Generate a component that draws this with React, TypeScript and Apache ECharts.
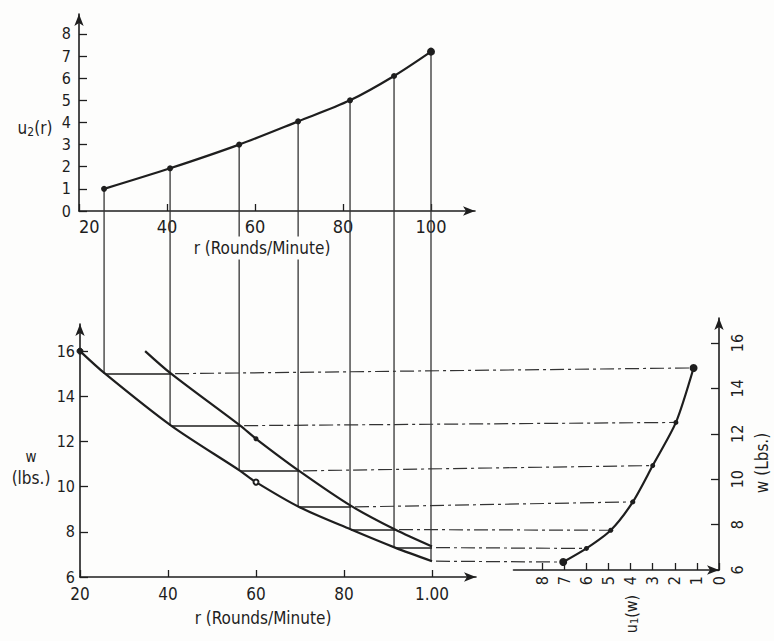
import React, { useEffect, useRef } from "react";
import * as echarts from "echarts";

// ---- data ----
// top chart: u2(r)
const rPts = [25.7, 40.7, 56.4, 69.8, 81.6, 91.6, 100];
const u2Vals = [1.0, 1.93, 3.0, 4.05, 5.0, 6.1, 7.2];
// lower curve value at each rPts (staircase levels)
const wSteps = [15.0, 12.7, 10.7, 9.1, 8.1, 7.3, 6.7];
// bottom-left curves
const lowerR = [20, 25.7, 40.7, 56.4, 60, 69.8, 81.6, 91.6, 100];
const lowerW = [16, 15.0, 12.7, 10.7, 10.2, 9.1, 8.1, 7.3, 6.7];
const upperR = [34.8, 40.7, 56.4, 60, 69.8, 81.6, 91.6, 100];
const upperW = [16, 15.0, 12.7, 12.12, 10.7, 9.15, 8.1, 7.35];
// right chart: u1(w)
const u1Vals = [1.15, 1.95, 3.0, 3.9, 4.9, 6.0, 7.05];
const u1W = [14.9, 12.5, 10.6, 9.0, 7.75, 6.95, 6.35];
// ticks / labels
const rTicks = [20, 40, 60, 80, 100];
const topRLabels = ["20", "40", "60", "80", "100"];
const botRLabels = ["20", "40", "60", "80", "1.00"];
const u2Ticks = [0, 1, 2, 3, 4, 5, 6, 7, 8];
const wTicks = [6, 8, 10, 12, 14, 16];
const u1Ticks = [0, 1, 2, 3, 4, 5, 6, 7, 8];

const FONT = '"Liberation Sans Narrow", "DejaVu Sans Condensed", "Liberation Sans", sans-serif';
const INK = "#1e1e1e";
const BG = "#fdfdfc";

function axisBase(extra: any) {
  return {
    type: "value",
    axisLine: {
      show: true,
      onZero: false,
      symbol: ["none", "arrow"],
      symbolSize: [7, 12],
      lineStyle: { color: INK, width: 1.6 },
    },
    splitLine: { show: false },
    ...extra,
  };
}

export default function App() {
  const ref = useRef<HTMLDivElement>(null);
  useEffect(() => {
    const chart = echarts.init(ref.current!, null, { renderer: "svg" });
    const option: any = {
      animation: false,
      backgroundColor: BG,
      grid: [
        { left: 79, top: 14, width: 396, height: 197, containLabel: false, outerBoundsMode: "none" },
        { left: 80, top: 324, width: 396, height: 253, containLabel: false, outerBoundsMode: "none" },
        { left: 513.5, top: 318, width: 205.5, height: 252, containLabel: false, outerBoundsMode: "none" },
      ],
      xAxis: [
        axisBase({
          gridIndex: 0, min: 20, max: 110,
          axisTick: { show: true, inside: true, length: 7, customValues: rTicks, lineStyle: { color: INK, width: 1.3 } },
          axisLabel: {
            customValues: rTicks, margin: 6, color: INK, fontFamily: FONT, fontSize: 18,
            alignMinLabel: "left",
            formatter: (v: number) => topRLabels[rTicks.indexOf(v)] ?? "",
          },
        }),
        axisBase({
          gridIndex: 1, min: 20, max: 110,
          axisTick: { show: true, inside: true, length: 7, customValues: rTicks, lineStyle: { color: INK, width: 1.3 } },
          axisLabel: {
            customValues: rTicks, margin: 8, color: INK, fontFamily: FONT, fontSize: 17,
            formatter: (v: number) => botRLabels[rTicks.indexOf(v)] ?? "",
          },
        }),
        axisBase({
          gridIndex: 2, min: 0, max: 9.3, inverse: true,
          axisTick: { show: true, inside: true, length: 7, customValues: u1Ticks, lineStyle: { color: INK, width: 1.3 } },
          axisLabel: {
            customValues: u1Ticks, margin: 6, rotate: 90, color: INK, fontFamily: FONT, fontSize: 16,
            formatter: (v: number) => String(v),
          },
        }),
      ],
      yAxis: [
        axisBase({
          gridIndex: 0, min: 0, max: 8.9,
          axisTick: { show: true, inside: true, length: 8, customValues: u2Ticks, lineStyle: { color: INK, width: 1.3 } },
          axisLabel: {
            customValues: u2Ticks, margin: 8, color: INK, fontFamily: FONT, fontSize: 16,
            formatter: (v: number) => String(v),
          },
        }),
        axisBase({
          gridIndex: 1, min: 6, max: 17.2,
          axisTick: { show: true, inside: true, length: 8, customValues: wTicks, lineStyle: { color: INK, width: 1.3 } },
          axisLabel: {
            customValues: wTicks, margin: 5, color: INK, fontFamily: FONT, fontSize: 16,
            formatter: (v: number) => String(v),
          },
        }),
        axisBase({
          gridIndex: 2, min: 6, max: 17.1, position: "right",
          axisTick: { show: true, inside: true, length: 8, customValues: wTicks, lineStyle: { color: INK, width: 1.3 } },
          axisLabel: {
            customValues: wTicks, margin: 10, rotate: 90, color: INK, fontFamily: FONT, fontSize: 16,
            formatter: (v: number) => String(v),
          },
        }),
      ],
      series: [
        {
          type: "line", xAxisIndex: 0, yAxisIndex: 0, smooth: 0.3,
          data: rPts.map((r, i) => ({
            value: [r, u2Vals[i]],
            symbolSize: i === rPts.length - 1 ? 8 : 6,
          })),
          symbol: "circle", symbolSize: 6,
          itemStyle: { color: INK },
          lineStyle: { color: INK, width: 2.2 },
          z: 5,
        },
        {
          type: "line", xAxisIndex: 1, yAxisIndex: 1, smooth: 0.3,
          data: lowerR.map((r, i) => {
            if (r === 20) return { value: [r, lowerW[i]], symbol: "circle", symbolSize: 6 };
            if (r === 60) return { value: [r, lowerW[i]], symbol: "emptyCircle", symbolSize: 5 };
            return { value: [r, lowerW[i]], symbol: "none" };
          }),
          showSymbol: true,
          itemStyle: { color: INK, borderColor: INK },
          lineStyle: { color: INK, width: 2.2 },
          z: 5,
        },
        {
          type: "line", xAxisIndex: 1, yAxisIndex: 1, smooth: 0.3,
          data: upperR.map((r, i) => {
            if (r === 60) return { value: [r, upperW[i]], symbol: "circle", symbolSize: 5 };
            return { value: [r, upperW[i]], symbol: "none" };
          }),
          showSymbol: true,
          itemStyle: { color: INK },
          lineStyle: { color: INK, width: 2.2 },
          z: 5,
        },
        {
          type: "lines", coordinateSystem: "cartesian2d", xAxisIndex: 1, yAxisIndex: 1,
          data: wSteps.slice(0, rPts.length - 1).map((w, i) => ({
            coords: [[rPts[i], w], [rPts[i + 1], w]],
          })),
          lineStyle: { color: INK, width: 1.5, opacity: 1 },
          z: 4,
        },
        {
          type: "line", xAxisIndex: 2, yAxisIndex: 2, smooth: 0.25,
          data: u1Vals.map((u, i) => ({
            value: [u, u1W[i]],
            symbolSize: i === 0 || i === u1Vals.length - 1 ? 8 : 5,
          })),
          symbol: "circle",
          itemStyle: { color: INK },
          lineStyle: { color: INK, width: 2.2 },
          z: 5,
        },
      ],
    };
    chart.setOption(option);

    const px = (g: number, p: number[]) => chart.convertToPixel({ gridIndex: g } as any, p) as number[];
    const elems: any[] = [];
    // vertical projection lines from u2(r) down to the lower curve
    rPts.forEach((r, i) => {
      const a = px(0, [r, u2Vals[i]]);
      const b = px(1, [r, wSteps[i]]);
      elems.push({
        type: "line", z: 1,
        shape: { x1: a[0], y1: a[1], x2: a[0], y2: b[1] },
        style: { stroke: "#333", lineWidth: 1.3 },
      });
    });
    // dash-dot projection lines to the right chart
    wSteps.forEach((w, i) => {
      const rs = i < rPts.length - 1 ? rPts[i + 1] : rPts[rPts.length - 1];
      const a = px(1, [rs, w]);
      const b = px(2, [u1Vals[i], u1W[i]]);
      elems.push({
        type: "line", z: 1,
        shape: { x1: a[0] + 4, y1: a[1], x2: b[0], y2: b[1] },
        style: { stroke: "#333", lineWidth: 1.2, lineDash: [14, 4, 3, 4] },
      });
    });
    const txt = (text: string, x: number, y: number, size: number, extra: any = {}) => ({
      type: "text", x, y, z: 20,
      style: {
        text, fill: INK, fontFamily: FONT, fontSize: size,
        align: "center", verticalAlign: "middle",
        textAlign: "center", textVerticalAlign: "middle",
        ...extra,
      },
    });
    elems.push(txt("r (Rounds/Minute)", 262, 248, 17, { backgroundColor: BG, padding: [3, 4] }));
    elems.push(txt("r (Rounds/Minute)", 263, 618, 17, { backgroundColor: BG, padding: [2, 4] }));
    elems.push(txt("{a|u}{b|2}{a|(r)}", 35, 128, 17, { rich: { a: { fontSize: 17, fontFamily: FONT, fill: INK }, b: { fontSize: 12, fontFamily: FONT, fill: INK, padding: [8, 0, 0, 0] } } }));
    elems.push(txt("w", 31, 457, 15));
    elems.push(txt("(lbs.)", 31, 478, 17));
    elems.push({ ...txt("w (Lbs.)", 762, 463, 17), rotation: Math.PI / 2 });
    elems.push({ ...txt("{a|u}{b|1}{a|(w)}", 631, 614, 16, { rich: { a: { fontSize: 16, fontFamily: FONT, fill: INK }, b: { fontSize: 11, fontFamily: FONT, fill: INK, padding: [7, 0, 0, 0] } } }), rotation: Math.PI / 2 });
    chart.setOption({ graphic: elems });

    return () => chart.dispose();
  }, []);
  return <div ref={ref} style={{ position: "fixed", left: 0, top: 0, width: 774, height: 641 }} />;
}
